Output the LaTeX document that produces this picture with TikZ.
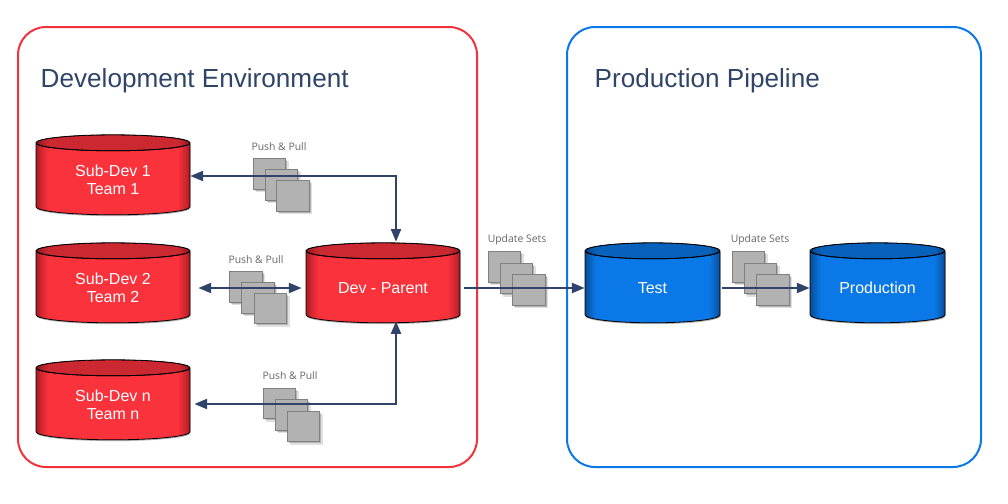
\documentclass[tikz,border=0pt]{standalone}
\usepackage{fontspec}
\setmainfont{Liberation Sans}
\newfontfamily\notefont{Open Sans}
\usetikzlibrary{shapes.geometric, shadows, arrows.meta}

\definecolor{devred}{HTML}{F2323C}
\definecolor{bodyred}{HTML}{FA323C}
\definecolor{edgered}{HTML}{A81C24}
\definecolor{prodblue}{HTML}{0A78E6}
\definecolor{edgeblue}{HTML}{0A4A90}
\definecolor{inkblue}{HTML}{2F4468}
\pgfdeclarehorizontalshading{redbody}{100bp}{color(0bp)=(edgered); color(25bp)=(edgered); color(26.5bp)=(edgered!55!bodyred); color(29bp)=(bodyred); color(71bp)=(bodyred); color(73.5bp)=(edgered!55!bodyred); color(75bp)=(edgered); color(100bp)=(edgered)}
\pgfdeclarehorizontalshading{bluebody}{100bp}{color(0bp)=(edgeblue); color(25bp)=(edgeblue); color(26.5bp)=(edgeblue!55!prodblue); color(29bp)=(prodblue); color(71bp)=(prodblue); color(73.5bp)=(edgeblue!55!prodblue); color(75bp)=(edgeblue); color(100bp)=(edgeblue)}

\tikzset{
    panel/.style={draw=#1, line width=1.5pt, rounded corners=21pt},
    heading/.style={anchor=base west, text=inkblue, font=\fontsize{19.6}{22}\selectfont},
    store/.style 2 args={cylinder, shape border rotate=90, shape aspect=1.2, text width=10pt, draw=black, line width=0.6pt,
        minimum height=60pt, minimum width=#2pt, inner sep=0pt,
        drop shadow={shadow xshift=0.4pt, shadow yshift=-1pt, opacity=0.3, fill=black},
        path picture={
            \shade[shading=#1] (path picture bounding box.south west) rectangle (path picture bounding box.north east);
            \draw[line width=0.6pt, fill=black, fill opacity=0.18] ([yshift=-6pt]path picture bounding box.north) ellipse [x radius=0.5*#2pt, y radius=6pt];
        }},
    storetext/.style={text=white, align=center, inner sep=0pt, yshift=-0.75pt, font=\fontsize{12}{13.5}\selectfont},
    sheet/.style={draw=black!50, line width=0.8pt, fill=black!30, minimum width=24.5pt, minimum height=23pt, inner sep=0pt,
        drop shadow={shadow xshift=2pt, shadow yshift=-2pt, opacity=0.12, fill=black},
        drop shadow={shadow xshift=1pt, shadow yshift=-1pt, opacity=0.2, fill=black}},
    note/.style={text=black!60, font=\notefont\fontsize{7.8}{9}\selectfont},
    flow/.style={draw=inkblue, line width=1.5pt, {Triangle[length=9.5pt,width=7.5pt]}-{Triangle[length=9.5pt,width=7.5pt]}},
    oneway/.style={draw=inkblue, line width=1.5pt, -{Triangle[length=9.5pt,width=7.5pt]}}
}

\begin{document}
\begin{tikzpicture}[x=0.75pt, y=-0.75pt]
    \useasboundingbox (0,0) rectangle (1008,504);

    % Environment panels
    \draw[panel=devred] (18,27) rectangle (477,467);
    \draw[panel=prodblue] (567,27) rectangle (981,467);
    \node[heading] (devtitle) at (36,87) {Development Environment};
    \node[heading] (prodtitle) at (590,87) {Production Pipeline};

    % Databases
    \node[store={redbody}{115.5}, label={[storetext]center:Sub-Dev 1\\Team 1}] (subdev1) at (113,179) {};
    \node[store={redbody}{115.5}, label={[storetext]center:Sub-Dev 2\\Team 2}] (subdev2) at (113,287) {};
    \node[store={redbody}{115.5}, label={[storetext]center:Sub-Dev n\\Team n}] (subdevn) at (113,404) {};
    \node[store={redbody}{115.5}, label={[storetext]center:Dev - Parent}] (devparent) at (383,287) {};
    \node[store={bluebody}{101.25}, label={[storetext]center:Test}] (test) at (652.5,287) {};
    \node[store={bluebody}{101.25}, label={[storetext]center:Production}] (production) at (877.5,287) {};

    % Sheets, upper stack
    \node[note] (pushone) at (279,146.5) {Push \& Pull};
    \node[sheet] (sheeta1) at (269.5,174) {};
    \node[sheet] (sheeta2) at (281.5,185) {};
    \node[sheet] (sheeta3) at (293,196) {};

    % Sheets, middle stack
    \node[note] (pushtwo) at (256,259.5) {Push \& Pull};
    \node[sheet] (sheetb1) at (246,287) {};
    \node[sheet] (sheetb2) at (258,298) {};
    \node[sheet] (sheetb3) at (270.5,308.5) {};

    % Sheets, lower stack
    \node[note] (pushn) at (290,375.5) {Push \& Pull};
    \node[sheet] (sheetc1) at (279.5,403.5) {};
    \node[sheet] (sheetc2) at (291.5,415) {};
    \node[sheet] (sheetc3) at (303.5,426.5) {};

    % Sheets, update sets
    \node[note] (updateone) at (517,239.5) {Update Sets};
    \node[sheet] (sheetd1) at (504.5,267) {};
    \node[sheet] (sheetd2) at (516.5,278.5) {};
    \node[sheet] (sheetd3) at (529,290) {};
    \node[note] (updatetwo) at (760,239.5) {Update Sets};
    \node[sheet] (sheete1) at (748.5,267) {};
    \node[sheet] (sheete2) at (760.5,278.5) {};
    \node[sheet] (sheete3) at (773,290) {};

    % Connectors
    \draw[flow, shorten >=0.5pt] ([yshift=2.25pt]subdev1.east) -| ([xshift=9.75pt]devparent.north);
    \draw[flow, shorten <=6pt, shorten >=3pt] ([yshift=-0.75pt]subdev2.east) -- ([yshift=-0.75pt]devparent.west);
    \draw[flow, shorten <=3pt, shorten >=-1.5pt] (subdevn.east) -| ([xshift=9.75pt]devparent.south);
    \draw[oneway, shorten <=3pt] ([yshift=-0.75pt]devparent.east) -- ([yshift=-0.75pt]test.west);
    \draw[oneway, shorten <=1pt] ([yshift=-0.75pt]test.east) -- ([yshift=-0.75pt]production.west);
\end{tikzpicture}
\end{document}
